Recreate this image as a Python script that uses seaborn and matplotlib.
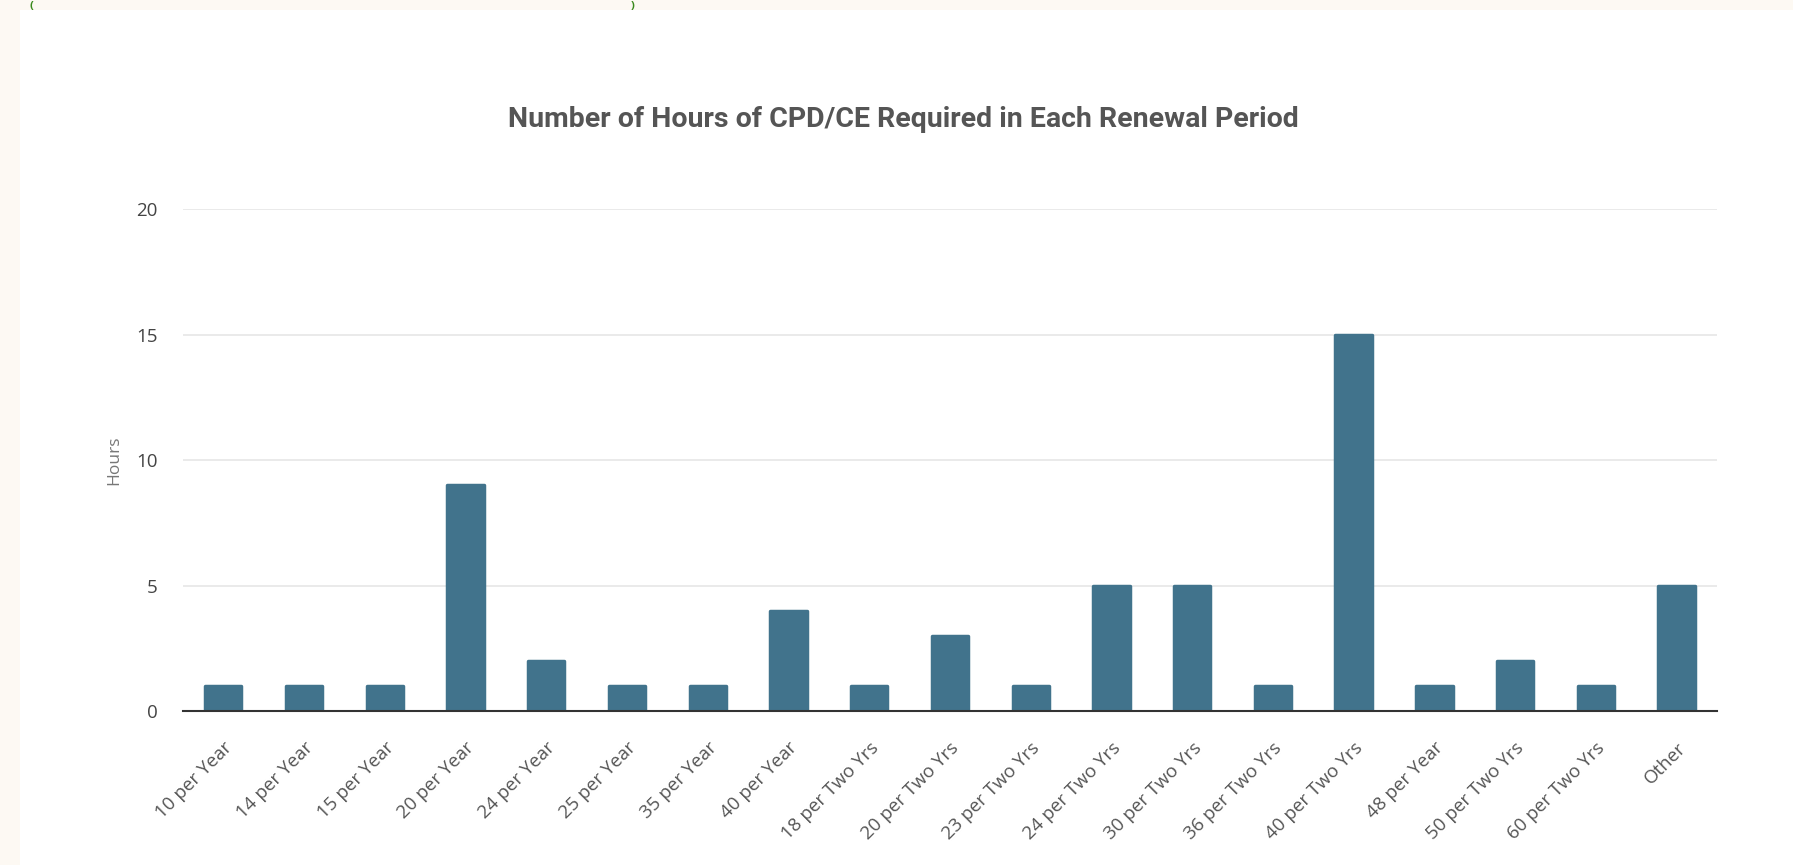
import matplotlib
matplotlib.use('Agg')
import matplotlib.pyplot as plt
import seaborn as sns
import pandas as pd
from matplotlib.patches import Rectangle

# data
periods = ['10 per Year', '14 per Year', '15 per Year', '20 per Year', '24 per Year',
           '25 per Year', '35 per Year', '40 per Year', '18 per Two Yrs', '20 per Two Yrs',
           '23 per Two Yrs', '24 per Two Yrs', '30 per Two Yrs', '36 per Two Yrs',
           '40 per Two Yrs', '48 per Year', '50 per Two Yrs', '60 per Two Yrs', 'Other']
hours = [1, 1, 1, 9, 2, 1, 1, 4, 1, 3, 1, 5, 5, 1, 15, 1, 2, 1, 5]
yticks = [0, 5, 10, 15, 20]

df = pd.DataFrame({'Period': periods, 'Hours': hours})

sns.set_theme(style='white')
plt.rcParams['font.family'] = ['Open Sans', 'DejaVu Sans']

fig = plt.figure(figsize=(17.93, 8.65), dpi=100)
fig.patch.set_facecolor('#fdf9f3')
# white card behind the chart
fig.patches.append(Rectangle((20 / 1793, 0), 1, 1 - 10 / 865, transform=fig.transFigure,
                             facecolor='white', edgecolor='none', zorder=-1))
# green brackets peeking in at the top edge
fig.text(29 / 1793, 1 - 1 / 865, '(', color='#3a8a1c', fontsize=8, fontweight='bold',
         ha='left', va='top')
fig.text(631 / 1793, 1 - 1 / 865, ')', color='#3a8a1c', fontsize=8, fontweight='bold',
         ha='left', va='top')

ax = fig.add_axes([0.102, 0.178, 0.8556, 0.580])
ax.set_zorder(2)
ax.set_facecolor('none')
sns.barplot(data=df, x='Period', y='Hours', color='#41738c', saturation=1,
            width=0.45, ax=ax, zorder=3,
            edgecolor='#41738c', linewidth=2.5)
# soften the corners a little
for p in ax.patches:
    p.set_joinstyle('round')

ax.set_ylim(0, 20)
ax.set_xlim(-0.5, len(periods) - 0.5)
ax.set_yticks(yticks)
ax.yaxis.grid(True, color='#e6e6e6', linewidth=1.2, zorder=0)
ax.set_axisbelow(True)
for s in ['top', 'right', 'left']:
    ax.spines[s].set_visible(False)
ax.spines['bottom'].set_color('#333333')
ax.spines['bottom'].set_linewidth(1.5)
ax.spines['bottom'].set_zorder(4)

ax.tick_params(axis='y', length=0, pad=18, labelsize=13.5, labelcolor='#444444')
ax.tick_params(axis='x', length=0, pad=20, labelsize=13.5, labelcolor='#555555')
plt.setp(ax.get_xticklabels(), rotation=45, ha='right', rotation_mode='anchor')

ax.set_xlabel('')
ax.set_ylabel('Hours', fontsize=12.5, color='#777777', labelpad=10)

fig.text(903 / 1793, 1 - 120 / 865, 'Number of Hours of CPD/CE Required in Each Renewal Period',
         ha='center', va='center', fontsize=20.5, fontweight='bold', color='#555555',
         family=['Roboto', 'DejaVu Sans'])

fig.savefig('out.png', dpi=100, facecolor=fig.get_facecolor())
